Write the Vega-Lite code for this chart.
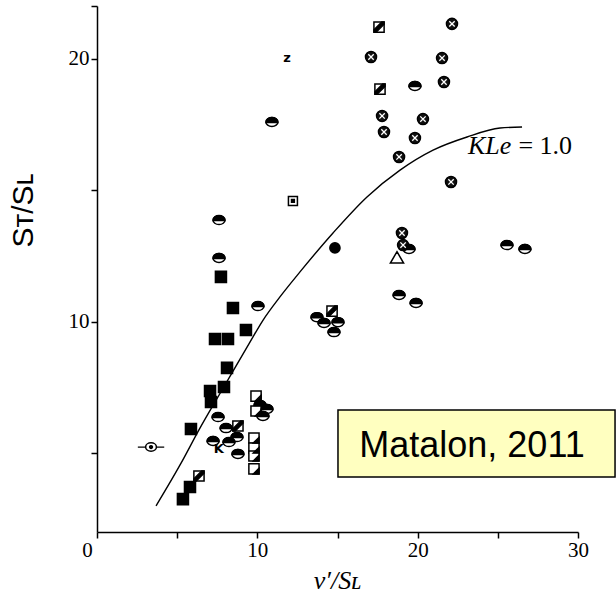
{
  "$schema": "https://vega.github.io/schema/vega-lite/v6.json",
  "width": 481,
  "height": 526,
  "autosize": {"type": "none"},
  "padding": {"left": 97, "top": 6, "right": 38, "bottom": 74},
  "background": "white",
  "config": {
    "view": {"stroke": null},
    "axis": {"grid": false, "domainColor": "black", "domainWidth": 1.5, "ticks": true, "tickColor": "black", "tickWidth": 1.5, "labelColor": "black", "titleColor": "black"}
  },
  "datasets": {
    "pts": [
      {"x": 7.73, "y": 11.70, "t": "sq"}, {"x": 8.48, "y": 10.52, "t": "sq"}, {"x": 7.36, "y": 9.34, "t": "sq"},
      {"x": 8.17, "y": 9.34, "t": "sq"}, {"x": 9.29, "y": 9.68, "t": "sq"}, {"x": 8.11, "y": 8.24, "t": "sq"},
      {"x": 7.92, "y": 7.51, "t": "sq"}, {"x": 7.05, "y": 7.36, "t": "sq"}, {"x": 7.11, "y": 6.94, "t": "sq"},
      {"x": 5.86, "y": 5.92, "t": "sq"}, {"x": 5.80, "y": 3.71, "t": "sq"}, {"x": 5.36, "y": 3.25, "t": "sq"},
      {"x": 19.83, "y": 18.96, "t": "half"}, {"x": 19.46, "y": 12.76, "t": "half"}, {"x": 25.57, "y": 12.91, "t": "half"},
      {"x": 26.69, "y": 12.76, "t": "half"}, {"x": 18.84, "y": 11.01, "t": "half"}, {"x": 19.90, "y": 10.71, "t": "half"},
      {"x": 10.91, "y": 17.59, "t": "half"}, {"x": 7.61, "y": 13.86, "t": "half"}, {"x": 7.61, "y": 12.42, "t": "half"},
      {"x": 10.04, "y": 10.59, "t": "half"}, {"x": 7.55, "y": 6.37, "t": "half"}, {"x": 8.05, "y": 5.95, "t": "half"},
      {"x": 8.73, "y": 5.61, "t": "half"}, {"x": 7.24, "y": 5.46, "t": "half"}, {"x": 8.23, "y": 5.42, "t": "half"},
      {"x": 8.79, "y": 4.97, "t": "half"}, {"x": 10.17, "y": 6.83, "t": "half"}, {"x": 10.60, "y": 6.68, "t": "half"},
      {"x": 10.35, "y": 6.41, "t": "half"}, {"x": 13.72, "y": 10.17, "t": "half"}, {"x": 14.16, "y": 9.95, "t": "half"},
      {"x": 15.03, "y": 9.98, "t": "half"}, {"x": 14.78, "y": 9.60, "t": "half"},
      {"x": 22.14, "y": 21.32, "t": "cross"}, {"x": 17.09, "y": 20.06, "t": "cross"}, {"x": 21.52, "y": 20.02, "t": "cross"},
      {"x": 21.64, "y": 19.11, "t": "cross"}, {"x": 17.78, "y": 17.82, "t": "cross"}, {"x": 20.33, "y": 17.70, "t": "cross"},
      {"x": 17.90, "y": 17.21, "t": "cross"}, {"x": 19.83, "y": 16.98, "t": "cross"}, {"x": 18.84, "y": 16.26, "t": "cross"},
      {"x": 22.08, "y": 15.31, "t": "cross"}, {"x": 19.02, "y": 13.37, "t": "cross"}, {"x": 19.09, "y": 12.91, "t": "cross"},
      {"x": 17.59, "y": 21.20, "t": "diag"}, {"x": 17.65, "y": 18.84, "t": "diag"}, {"x": 6.36, "y": 4.13, "t": "diag"},
      {"x": 8.79, "y": 6.03, "t": "diag"}, {"x": 14.66, "y": 10.40, "t": "diag"},
      {"x": 12.22, "y": 14.59, "t": "dotsq"},
      {"x": 9.92, "y": 7.17, "t": "corner"}, {"x": 9.92, "y": 6.60, "t": "corner"}, {"x": 9.79, "y": 5.57, "t": "corner"},
      {"x": 9.79, "y": 5.19, "t": "corner"}, {"x": 9.79, "y": 4.89, "t": "corner"}, {"x": 9.79, "y": 4.40, "t": "corner"},
      {"x": 18.71, "y": 12.42, "t": "tri"},
      {"x": 14.84, "y": 12.80, "t": "dot"},
      {"x": 3.37, "y": 5.23, "t": "arm"},
      {"x": 11.85, "y": 20.02, "t": "z"},
      {"x": 7.60, "y": 5.15, "t": "K"}
    ],
    "curve": [
      {"x": 3.68, "y": 2.99}, {"x": 5.18, "y": 4.55}, {"x": 6.42, "y": 5.95}, {"x": 7.98, "y": 7.59},
      {"x": 9.54, "y": 9.22}, {"x": 10.35, "y": 10.05}, {"x": 11.41, "y": 10.94}, {"x": 12.66, "y": 11.89},
      {"x": 14.72, "y": 13.37}, {"x": 16.84, "y": 14.74}, {"x": 18.90, "y": 15.76}, {"x": 20.96, "y": 16.52},
      {"x": 23.08, "y": 17.02}, {"x": 25.14, "y": 17.36}, {"x": 26.51, "y": 17.40}
    ]
  },
  "layer": [
    {
      "data": {"name": "curve"},
      "mark": {"type": "line", "color": "black", "strokeWidth": 1.4, "interpolate": "monotone"},
      "encoding": {
        "x": {
          "field": "x", "type": "quantitative",
          "scale": {"domain": [0, 30], "nice": false, "zero": false},
          "axis": {
            "values": [0, 5, 10, 15, 20, 25, 30],
            "labelExpr": "datum.value % 10 == 0 ? datum.label : ''",
            "tickSize": 6, "labelPadding": 1, "labelFlush": false, "labelOverlap": false,
            "encode": {"ticks": {"update": {"y2": {"value": -6}}}},
            "labelFont": "Liberation Serif", "labelFontSize": 21,
            "labelOffset": {"condition": {"test": "datum.value == 0", "value": -10}, "value": 0},
            "title": "v′/Sʟ", "titleFont": "Liberation Serif", "titleFontStyle": "italic", "titleFontWeight": "normal",
            "titleFontSize": 26, "titleX": 240, "titleY": 56, "titleBaseline": "alphabetic", "titleAlign": "center"
          }
        },
        "y": {
          "field": "y", "type": "quantitative",
          "scale": {"domain": [2, 22], "nice": false, "zero": false},
          "axis": {
            "values": [5, 10, 15, 20, 22],
            "labelExpr": "datum.value % 10 == 0 ? datum.label : ''",
            "tickSize": 6, "labelPadding": 2, "labelFlush": false, "labelOverlap": false,
            "encode": {"ticks": {"update": {"x2": {"value": 6}}}},
            "labelFont": "Liberation Serif", "labelFontSize": 21,
            "title": "Sᴛ/Sʟ", "titleFont": "Liberation Sans", "titleFontSize": 30, "titleFontWeight": "normal",
            "titleX": -65, "titleY": 204, "titleAngle": -90, "titleBaseline": "alphabetic", "titleAlign": "center"
          }
        }
      }
    },
    {
      "data": {"name": "pts"},
      "transform": [{"filter": {"field": "t", "oneOf": ["sq", "half", "cross", "diag", "dotsq", "corner", "tri", "dot", "arm"]}}],
      "mark": {"type": "point", "size": 144, "strokeWidth": 1.5, "opacity": 1, "filled": true},
      "encoding": {
        "x": {"field": "x", "type": "quantitative"},
        "y": {"field": "y", "type": "quantitative"},
        "shape": {
          "field": "t", "type": "nominal", "legend": null,
          "scale": {
            "domain": ["sq", "half", "cross", "diag", "dotsq", "corner", "tri", "dot", "arm"],
            "range": [
              "M-0.92,-0.92L0.92,-0.92L0.92,0.92L-0.92,0.92Z",
              "M-1,0C-1,-0.414 -0.552,-0.75 0,-0.75C0.552,-0.75 1,-0.414 1,0C1,0.414 0.552,0.75 0,0.75C-0.552,0.75 -1,0.414 -1,0Z",
              "M-0.92,0C-0.92,-0.508 -0.508,-0.92 0,-0.92C0.508,-0.92 0.92,-0.508 0.92,0C0.92,0.508 0.508,0.92 0,0.92C-0.508,0.92 -0.92,0.508 -0.92,0Z",
              "M-0.85,-0.85L0.85,-0.85L0.85,0.85L-0.85,0.85Z",
              "M-0.75,-0.75L0.75,-0.75L0.75,0.75L-0.75,0.75Z",
              "M-0.85,-0.85L0.85,-0.85L0.85,0.85L-0.85,0.85Z",
              "M0,-1.05L1.1,0.85L-1.1,0.85Z",
              "M-0.85,0C-0.85,-0.469 -0.469,-0.85 0,-0.85C0.469,-0.85 0.85,-0.469 0.85,0C0.85,0.469 0.469,0.85 0,0.85C-0.469,0.85 -0.85,0.469 -0.85,0Z",
              "M-0.9,0C-0.9,-0.387 -0.497,-0.7 0,-0.7C0.497,-0.7 0.9,-0.387 0.9,0C0.9,0.387 0.497,0.7 0,0.7C-0.497,0.7 -0.9,0.387 -0.9,0Z"
            ]
          }
        },
        "fill": {
          "field": "t", "type": "nominal", "legend": null,
          "scale": {
            "domain": ["sq", "half", "cross", "diag", "dotsq", "corner", "tri", "dot", "arm"],
            "range": ["black", "white", "#111111", "white", "white", "white", "white", "black", "white"]
          }
        },
        "stroke": {"value": "black"}
      }
    },
    {
      "data": {"name": "pts"},
      "transform": [{"filter": {"field": "t", "oneOf": ["half", "cross", "diag", "dotsq", "corner", "arm"]}}],
      "mark": {"type": "point", "size": 144, "strokeWidth": 1.3, "opacity": 1, "filled": true},
      "encoding": {
        "x": {"field": "x", "type": "quantitative"},
        "y": {"field": "y", "type": "quantitative"},
        "shape": {
          "field": "t", "type": "nominal", "legend": null,
          "scale": {
            "domain": ["half", "cross", "diag", "dotsq", "corner", "arm"],
            "range": [
              "M-1,0.1C-1,-0.414 -0.552,-0.75 0,-0.75C0.552,-0.75 1,-0.414 1,0.1Z",
              "M-0.45,-0.45L0.45,0.45M0.45,-0.45L-0.45,0.45",
              "M-0.85,0.85L-0.85,0.45L0.45,-0.85L0.85,-0.85L0.85,-0.45L-0.45,0.85Z",
              "M-0.25,-0.25L0.25,-0.25L0.25,0.25L-0.25,0.25Z",
              "M0.85,0.85L0.85,-0.15L-0.15,0.85Z",
              "M-2.2,0L-0.9,0M0.9,0L2.2,0M-0.25,0C-0.25,-0.138 -0.138,-0.25 0,-0.25C0.138,-0.25 0.25,-0.138 0.25,0C0.25,0.138 0.138,0.25 0,0.25C-0.138,0.25 -0.25,0.138 -0.25,0Z"
            ]
          }
        },
        "fill": {
          "field": "t", "type": "nominal", "legend": null,
          "scale": {"domain": ["half", "cross", "diag", "dotsq", "corner", "arm"], "range": ["black", "transparent", "black", "black", "black", "black"]}
        },
        "stroke": {
          "field": "t", "type": "nominal", "legend": null,
          "scale": {"domain": ["half", "cross", "diag", "dotsq", "corner", "arm"], "range": ["black", "white", "black", "black", "black", "black"]}
        }
      }
    },
    {
      "data": {"name": "pts"},
      "transform": [{"filter": {"field": "t", "oneOf": ["z", "K"]}}],
      "mark": {"type": "text", "font": "DejaVu Sans", "fontSize": 13, "fontWeight": "bold", "fill": "black", "align": "center", "baseline": "middle"},
      "encoding": {
        "x": {"field": "x", "type": "quantitative"},
        "y": {"field": "y", "type": "quantitative"},
        "text": {"field": "t"}
      }
    },
    {
      "data": {"values": [{"a": 1}]},
      "mark": {"type": "rect", "fill": "#ffffc0", "stroke": "black", "strokeWidth": 1.5},
      "encoding": {
        "x": {"datum": 15.03}, "x2": {"datum": 32.31},
        "y": {"datum": 6.64}, "y2": {"datum": 4.09}
      }
    },
    {
      "data": {"values": [{"a": 1}]},
      "mark": {"type": "text", "text": "Matalon, 2011", "font": "Liberation Sans", "fontSize": 36, "fill": "black", "align": "center", "baseline": "alphabetic"},
      "encoding": {"x": {"datum": 23.39}, "y": {"datum": 4.85}}
    },
    {
      "data": {"values": [{"a": 1}]},
      "mark": {"type": "text", "text": "KLe", "font": "Liberation Serif", "fontStyle": "italic", "fontSize": 26, "fill": "black", "align": "left", "baseline": "alphabetic"},
      "encoding": {"x": {"datum": 23.14}, "y": {"datum": 16.37}}
    },
    {
      "data": {"values": [{"a": 1}]},
      "mark": {"type": "text", "text": "= 1.0", "font": "Liberation Serif", "fontSize": 26, "fill": "black", "align": "right", "baseline": "alphabetic"},
      "encoding": {"x": {"datum": 29.63}, "y": {"datum": 16.37}}
    }
  ],
  "resolve": {"scale": {"shape": "independent", "fill": "independent", "stroke": "independent"}}
}
